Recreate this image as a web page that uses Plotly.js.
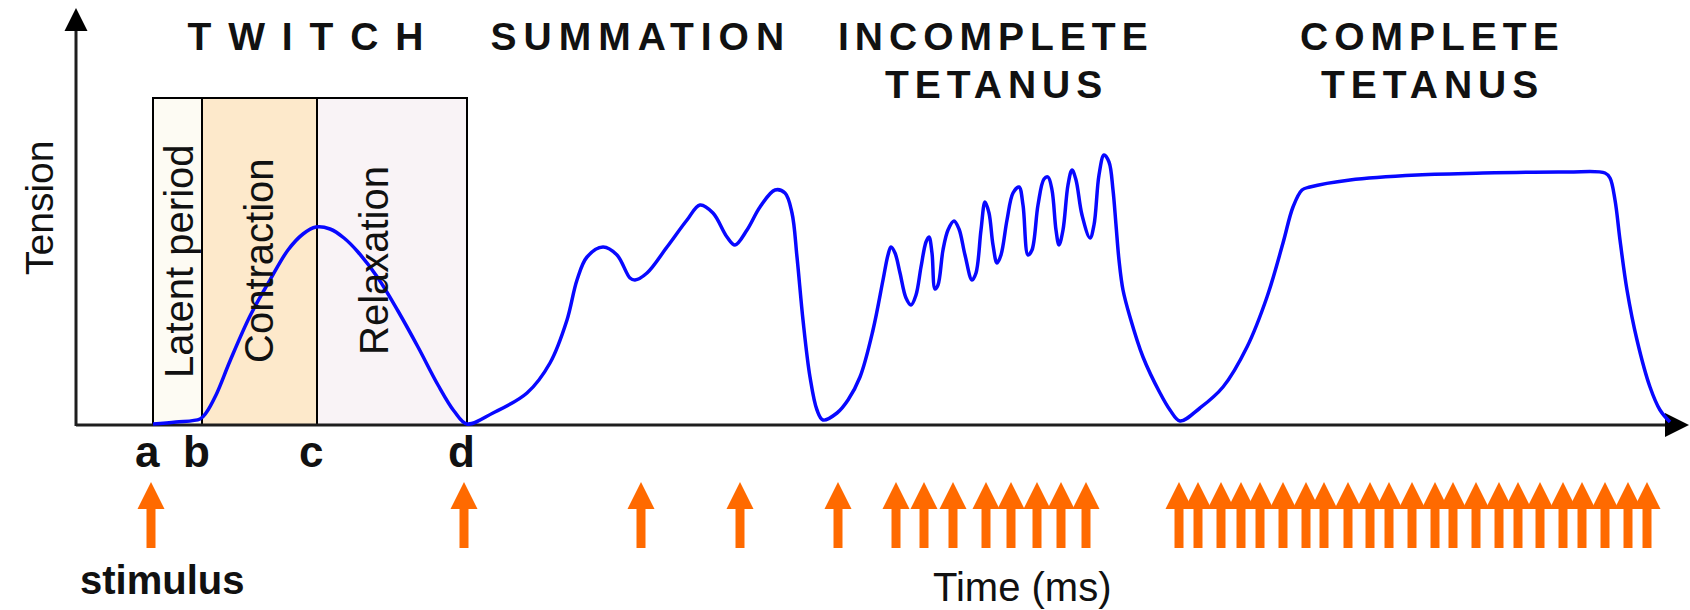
<!DOCTYPE html>
<html>
<head>
<meta charset="utf-8">
<script src="https://cdn.plot.ly/plotly-3.0.1.min.js"></script>
<style>
  html, body { margin: 0; padding: 0; background: #ffffff; }
  #chart { width: 1690px; height: 610px; }
</style>
</head>
<body>
<div id="chart"></div>
<script>
// ---------------- DATA ----------------
// time in ms (origin at the tension axis), tension in arbitrary units
const twitchTime    = [77, 100, 124, 130, 140, 154, 174, 194, 212, 227, 240, 254, 268, 282, 302, 322, 342, 362, 378, 391];
const twitchTension = [1, 3, 6, 12, 30, 64, 109, 145, 175, 191, 198, 196, 187, 173, 147, 114, 78, 40, 14, 1];

const summationTime    = [417, 451, 474, 491, 501, 511, 527, 541, 554, 559, 571, 591, 611, 624, 637, 651, 659, 671, 684, 699, 709, 716, 721, 727, 734, 741, 747, 761];
const summationTension = [12, 32, 62, 105, 145, 168, 178, 170, 147, 145, 152, 178, 205, 220, 212, 188, 180, 195, 218, 235, 232, 212, 168, 105, 48, 15, 5, 12];

const incompleteTime    = [772, 784, 797, 807, 812, 815, 819, 824, 830, 835, 840, 845, 850, 853, 856, 859, 862, 867, 872, 878, 883, 889, 896, 900, 905, 909, 913, 917, 921, 925, 931, 937, 943, 947, 952, 956, 962, 968, 972, 976, 980, 983, 987, 992, 996, 1000, 1006, 1014, 1018, 1023, 1028, 1033, 1037, 1040, 1043, 1047, 1054, 1067, 1084, 1094, 1104];
const incompleteTension = [25, 48, 95, 145, 170, 178, 172, 152, 127, 120, 130, 158, 183, 188, 172, 136, 140, 175, 195, 204, 196, 170, 145, 152, 195, 223, 212, 180, 162, 170, 205, 232, 238, 220, 170, 175, 220, 246, 248, 235, 195, 180, 195, 240, 255, 245, 210, 187, 200, 250, 270, 263, 235, 200, 165, 135, 108, 68, 32, 15, 4];

const completeTime    = [1124, 1147, 1171, 1191, 1207, 1217, 1226, 1234, 1274, 1341, 1407, 1491, 1529, 1534, 1539, 1544, 1551, 1561, 1574, 1584, 1594];
const completeTension = [17, 38, 78, 128, 182, 218, 235, 238, 245, 250, 252, 253, 252, 247, 225, 185, 135, 85, 38, 15, 3];

// stimulus times (one arrow each)
const stimulusTimes = [75, 388, 565, 664, 762, 820, 848, 877, 910, 935, 961, 985, 1010,
  1103, 1122, 1145, 1165, 1184, 1207, 1230, 1248, 1272, 1294, 1313, 1336, 1359, 1377,
  1400, 1423, 1442, 1464, 1487, 1506, 1529, 1552, 1571];

// twitch phase boundaries
const phaseLabels = ['a', 'b', 'c', 'd'];
const phaseTimes  = [77, 126, 241, 391];
const phaseNames  = ['Latent period', 'Contraction', 'Relaxation'];
const boxTopTension = 327;

const sectionTitles = [['T W I T C H'], ['SUMMATION'], ['INCOMPLETE', 'TETANUS'], ['COMPLETE', 'TETANUS']];

// ---------------- DRAWING ----------------
const W = 1690, H = 610;
const X0 = 76, Y0 = 425;               // pixel position of the origin
const xRange = [-X0, W - X0];
const yRange = [Y0 - H, Y0];
const px2t = p => p - X0;               // pixel helpers for text placement
const py2v = p => Y0 - p;

const curveT = [].concat(twitchTime, summationTime, incompleteTime, completeTime);
const curveV = [].concat(twitchTension, summationTension, incompleteTension, completeTension);

const BLUE = '#0808ff';
const ORANGE = '#ff6a00';
const AX = '#1e1e1e';

// stimulus arrows: heads + shafts
const headTip = py2v(482), shaftTop = py2v(506), shaftBot = py2v(548);
const shaftX = [], shaftY = [];
stimulusTimes.forEach(t => { shaftX.push(t, t, null); shaftY.push(shaftTop, shaftBot, null); });

const traces = [
  // axes lines
  { x: [0, 0, null, 0, W - X0 - 20], y: [-1, 400, null, 0, 0], mode: 'lines',
    line: { color: AX, width: 3 }, hoverinfo: 'skip', showlegend: false },
  { x: [0], y: [py2v(8)], mode: 'markers', marker: { symbol: 'arrow-up', size: 23, color: '#000' },
    hoverinfo: 'skip', showlegend: false },
  { x: [W - X0 - 1], y: [0], mode: 'markers', marker: { symbol: 'arrow-right', size: 24, color: '#000' },
    hoverinfo: 'skip', showlegend: false },
  // tension curve
  { x: curveT, y: curveV, mode: 'lines', line: { color: BLUE, width: 3.5, shape: 'spline', smoothing: 1 },
    hoverinfo: 'skip', showlegend: false },
  // stimulus shafts
  { x: shaftX, y: shaftY, mode: 'lines', line: { color: ORANGE, width: 9 },
    hoverinfo: 'skip', showlegend: false },
  // stimulus heads
  { x: stimulusTimes, y: stimulusTimes.map(() => headTip), mode: 'markers',
    marker: { symbol: 'arrow-up', size: 27, color: ORANGE, line: { width: 0 } },
    hoverinfo: 'skip', showlegend: false }
];

// twitch phase boxes
const phaseFills = ['#fdfbf3', '#fde9cb', '#f9f3f6'];
const shapes = [];
for (let i = 0; i < 3; i++) {
  shapes.push({ type: 'rect', xref: 'x', yref: 'y', layer: 'below',
    x0: phaseTimes[i], x1: phaseTimes[i + 1], y0: 0, y1: boxTopTension,
    fillcolor: phaseFills[i], line: { color: '#000', width: 2 } });
}

const FONT = '"Liberation Sans", Arial, Helvetica, sans-serif';
const annotations = [];
const titleSpacing = [];
// section titles
const titleCenters = [307, 641, 996, 1432];
const titleSp = ['3px', '7px', '6px', '6px'];
sectionTitles.forEach((lines, i) => {
  lines.forEach((txt, j) => {
    annotations.push({ xref: 'x', yref: 'y', x: px2t(titleCenters[i]), y: py2v(36 + j * 48),
      text: txt, showarrow: false, xanchor: 'center', yanchor: 'middle',
      font: { family: FONT, size: 39, color: '#111', weight: 'bold' } });
    titleSpacing.push({ idx: annotations.length - 1, sp: titleSp[i] });
  });
});
// phase names (rotated)
const phaseNameCenters = [179, 259, 374];
phaseNames.forEach((txt, i) => {
  annotations.push({ xref: 'x', yref: 'y', x: px2t(phaseNameCenters[i]), y: py2v(261),
    text: txt, showarrow: false, textangle: -90, xanchor: 'center', yanchor: 'middle',
    font: { family: FONT, size: 40, color: '#111' } });
});
// phase letters
phaseLabels.forEach((txt, i) => {
  annotations.push({ xref: 'x', yref: 'y', x: phaseTimes[i], xshift: -6, y: py2v(451),
    text: txt, showarrow: false, xanchor: 'center', yanchor: 'middle',
    font: { family: FONT, size: 44, color: '#111', weight: 'bold' } });
});
// axis titles & stimulus label
annotations.push({ xref: 'x', yref: 'y', x: px2t(39), y: py2v(208), text: 'Tension', textangle: -90,
  showarrow: false, xanchor: 'center', yanchor: 'middle', font: { family: FONT, size: 39, color: '#111' } });
annotations.push({ xref: 'x', yref: 'y', x: px2t(1022), y: py2v(587), text: 'Time (ms)',
  showarrow: false, xanchor: 'center', yanchor: 'middle', font: { family: FONT, size: 40, color: '#111' } });
annotations.push({ xref: 'x', yref: 'y', x: px2t(162), y: py2v(580), text: 'stimulus',
  showarrow: false, xanchor: 'center', yanchor: 'middle', font: { family: FONT, size: 40, color: '#111', weight: 'bold' } });

const layout = {
  width: W, height: H,
  margin: { l: 0, r: 0, t: 0, b: 0, pad: 0 },
  paper_bgcolor: '#ffffff', plot_bgcolor: '#ffffff',
  xaxis: { range: xRange, visible: false, fixedrange: true },
  yaxis: { range: yRange, visible: false, fixedrange: true },
  showlegend: false, hovermode: false,
  shapes: shapes, annotations: annotations
};

Plotly.newPlot('chart', traces, layout, { displayModeBar: false, staticPlot: true }).then(gd => {
  titleSpacing.forEach(o => {
    const t = gd.querySelector('g.annotation[data-index="' + o.idx + '"] text.annotation-text');
    if (t) t.style.letterSpacing = o.sp;
  });
});
</script>
</body>
</html>
